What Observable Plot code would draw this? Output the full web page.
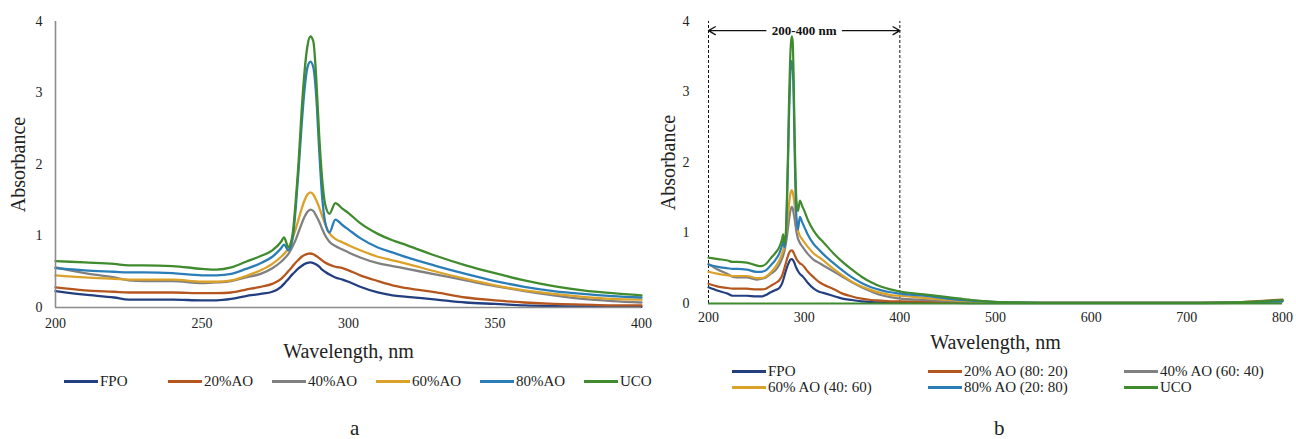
<!DOCTYPE html>
<html>
<head>
<meta charset="utf-8">
<script src="https://cdn.jsdelivr.net/npm/d3@7"></script>
<script src="https://cdn.jsdelivr.net/npm/@observablehq/plot@0.6"></script>
<style>
  html, body { margin: 0; padding: 0; background: #fff; }
  body { width: 1296px; height: 439px; position: relative; overflow: hidden; font-family: "Liberation Serif", "Times New Roman", serif; color: #222; }
  .panel { position: absolute; top: 0; }
  .legend { position: absolute; font-size: 15px; color: #222; }
  .item { position: absolute; display: flex; align-items: center; white-space: nowrap; height: 16px; }
  .sw { display: inline-block; width: 34px; height: 3px; margin-right: 2px; }
  .cap { position: absolute; top: 419px; font-size: 21px; line-height: 18px; color: #222; }
</style>
</head>
<body>
<div id="pb" class="panel" style="left:650px"></div>
<div id="pa" class="panel" style="left:0px"></div>
<div id="lega" class="legend"></div>
<div id="legb" class="legend"></div>
<div class="cap" style="left:350px">a</div>
<div class="cap" style="left:994px">b</div>
<script>
// ---------- data ----------
const seriesNamesA = ["FPO", "20%AO", "40%AO", "60%AO", "80%AO", "UCO"];
const seriesNamesB = ["FPO", "20% AO (80: 20)", "40% AO (60: 40)", "60% AO (40: 60)", "80% AO (20: 80)", "UCO"];
const colors = ["#233f80", "#b4561e", "#808080", "#dba22a", "#2b7db8", "#3f8b2e"];

const wl = [200,210,220,225,230,240,250,255,260,265,270,274,277,278,279.5,281,282,283,284,285,286,287,288,289,290,291,292,293.5,295.5,298,300,304,310,315,320,330,340,350,360,370,380,390,400];

const fpo   = [.23,.18,.14,.11,.11,.11,.10,.10,.12,.16,.19,.22,.29,.33,.40,.47,.51,.55,.58,.61,.625,.63,.62,.60,.57,.53,.50,.46,.42,.39,.36,.29,.21,.17,.15,.11,.07,.05,.03,.02,.015,.01,.01];
const ao20  = [.28,.24,.22,.21,.21,.21,.20,.20,.21,.25,.29,.33,.40,.44,.51,.58,.63,.67,.71,.735,.75,.755,.745,.72,.69,.66,.63,.60,.57,.55,.52,.45,.37,.31,.27,.21,.14,.10,.07,.05,.04,.03,.03];
const ao40  = [.56,.48,.42,.38,.37,.37,.34,.35,.37,.42,.47,.55,.64,.68,.75,.86,.95,1.06,1.17,1.27,1.34,1.37,1.35,1.28,1.20,1.10,1.01,.92,.86,.81,.77,.70,.62,.58,.54,.46,.38,.30,.23,.17,.12,.09,.07];
const ao60  = [.45,.42,.40,.39,.39,.39,.36,.36,.38,.44,.52,.61,.71,.75,.83,.98,1.10,1.24,1.38,1.50,1.58,1.61,1.58,1.50,1.40,1.28,1.17,1.04,.96,.91,.87,.80,.71,.66,.61,.50,.40,.31,.24,.19,.15,.12,.11];
const ao80  = [.55,.52,.50,.49,.49,.48,.45,.45,.47,.54,.62,.71,.83,.88,.80,.98,1.40,1.95,2.55,3.05,3.36,3.44,3.36,2.95,2.20,1.55,1.20,1.05,1.23,1.15,1.09,.97,.84,.77,.70,.58,.47,.37,.29,.23,.19,.16,.14];
const uco   = [.65,.63,.61,.59,.59,.58,.54,.53,.56,.64,.72,.80,.92,.98,.84,1.05,1.50,2.05,2.75,3.30,3.66,3.79,3.72,3.20,2.40,1.80,1.45,1.31,1.46,1.38,1.32,1.18,1.03,.94,.87,.72,.59,.48,.38,.30,.24,.20,.17];

// extended range (panel b only), 425–800 nm
const tailWl   = [425,450,475,500,525,550,600,650,700,750,775,800];
const fpoTail  = [.01,.008,.006,.005,.005,.005,.005,.005,.005,.01,.02,.035];
const ao20Tail = [.025,.02,.015,.01,.01,.01,.01,.01,.01,.015,.035,.055];
const ao40Tail = [.05,.035,.02,.012,.01,.01,.01,.01,.01,.01,.02,.03];
const ao60Tail = [.08,.05,.03,.015,.01,.01,.01,.01,.01,.012,.025,.04];
const ao80Tail = [.11,.07,.04,.02,.012,.01,.01,.01,.01,.012,.02,.035];
const ucoTail  = [.13,.09,.05,.025,.015,.01,.01,.01,.01,.015,.03,.05];

const xTicksA = [200, 250, 300, 350, 400];
const xTicksB = [200, 300, 400, 500, 600, 700, 800];
const yTicks = [0, 1, 2, 3, 4];
const rangeMarks = [200, 400];
const rangeLabel = "200-400 nm";

// ---------- tables ----------
const main = [fpo, ao20, ao40, ao60, ao80, uco];
const tails = [fpoTail, ao20Tail, ao40Tail, ao60Tail, ao80Tail, ucoTail];
const rowsA = [], rowsB = [];
main.forEach((vals, s) => {
  vals.forEach((v, i) => {
    rowsA.push({x: wl[i], y: v, s: seriesNamesA[s]});
    rowsB.push({x: wl[i], y: v, s: seriesNamesB[s]});
  });
  tails[s].forEach((v, i) => rowsB.push({x: tailWl[i], y: v, s: seriesNamesB[s]}));
});

const FONT = "Liberation Serif, Times New Roman, serif";
const fmt = d => String(d);

// ---------- panel a ----------
const plotA = Plot.plot({
  width: 660, height: 365,
  marginLeft: 55, marginRight: 19, marginTop: 21, marginBottom: 58,
  style: {fontFamily: FONT, color: "#222", background: "none", overflow: "visible"},
  x: {domain: [200, 400]},
  y: {domain: [0, 4]},
  color: {domain: seriesNamesA, range: colors},
  marks: [
    Plot.axisX({ticks: xTicksA, tickFormat: fmt, tickSize: 0, tickPadding: 11, fontSize: 14, label: null}),
    Plot.axisY({ticks: yTicks, tickFormat: fmt, tickSize: 0, tickPadding: 13, fontSize: 14, label: null}),
    Plot.line(rowsA, {x: "x", y: "y", z: "s", stroke: "s", strokeWidth: 2.3, curve: "monotone-x"}),
    Plot.ruleX([200], {stroke: "#8c8c8c", strokeWidth: 1.6}),
    Plot.ruleY([0], {stroke: "#8c8c8c", strokeWidth: 1.6}),
    Plot.text(["Wavelength, nm"], {frameAnchor: "bottom", lineAnchor: "middle", textAnchor: "middle", dy: 44, fontSize: 20}),
    Plot.text(["Absorbance"], {frameAnchor: "left", lineAnchor: "middle", textAnchor: "middle", rotate: -90, dx: -37, fontSize: 20})
  ]
});
document.getElementById("pa").append(plotA);

// ---------- panel b ----------
const plotB = Plot.plot({
  width: 646, height: 355,
  marginLeft: 58, marginRight: 14, marginTop: 21, marginBottom: 52,
  style: {fontFamily: FONT, color: "#222", background: "none", overflow: "visible"},
  x: {domain: [200, 800]},
  y: {domain: [0, 4]},
  color: {domain: seriesNamesB, range: colors},
  marks: [
    Plot.axisX({ticks: xTicksB, tickFormat: fmt, tickSize: 0, tickPadding: 9, fontSize: 14, label: null}),
    Plot.axisY({ticks: yTicks, tickFormat: fmt, tickSize: 0, tickPadding: 19, fontSize: 14, label: null}),
    Plot.ruleX(rangeMarks, {y1: 0, y2: 4, stroke: "#111", strokeWidth: 1, strokeDasharray: "3,2"}),
    Plot.line(rowsB, {x: "x", y: "y", z: "s", stroke: "s", strokeWidth: 2.2, curve: "monotone-x"}),
    Plot.ruleY([0], {stroke: colors[5], strokeWidth: 2.2}),
    Plot.arrow([{x1: 260, x2: 200}, {x1: 340, x2: 400}], {x1: "x1", x2: "x2", y1: 3.87, y2: 3.87, stroke: "#111", strokeWidth: 1.3, headLength: 9}),
    Plot.text([rangeLabel], {x: 300, y: 3.87, fontSize: 13, fontWeight: "bold", fill: "#111"}),
    Plot.text(["Wavelength, nm"], {frameAnchor: "bottom", lineAnchor: "middle", textAnchor: "middle", dy: 39, fontSize: 20}),
    Plot.text(["Absorbance"], {frameAnchor: "left", lineAnchor: "middle", textAnchor: "middle", rotate: -90, dx: -40, fontSize: 20})
  ]
});
document.getElementById("pb").append(plotB);

// ---------- legends ----------
function addItem(container, left, top, name, color) {
  const d = document.createElement("div");
  d.className = "item";
  d.style.left = left + "px";
  d.style.top = top + "px";
  const sw = document.createElement("span");
  sw.className = "sw";
  sw.style.background = color;
  d.append(sw, document.createTextNode(name));
  container.append(d);
}
const lega = document.getElementById("lega");
seriesNamesA.forEach((n, i) => addItem(lega, 64 + i * 104, 373, n, colors[i]));
const legb = document.getElementById("legb");
seriesNamesB.forEach((n, i) => addItem(legb, 732 + (i % 3) * 196, 363 + Math.floor(i / 3) * 16, n, colors[i]));
</script>
</body>
</html>
